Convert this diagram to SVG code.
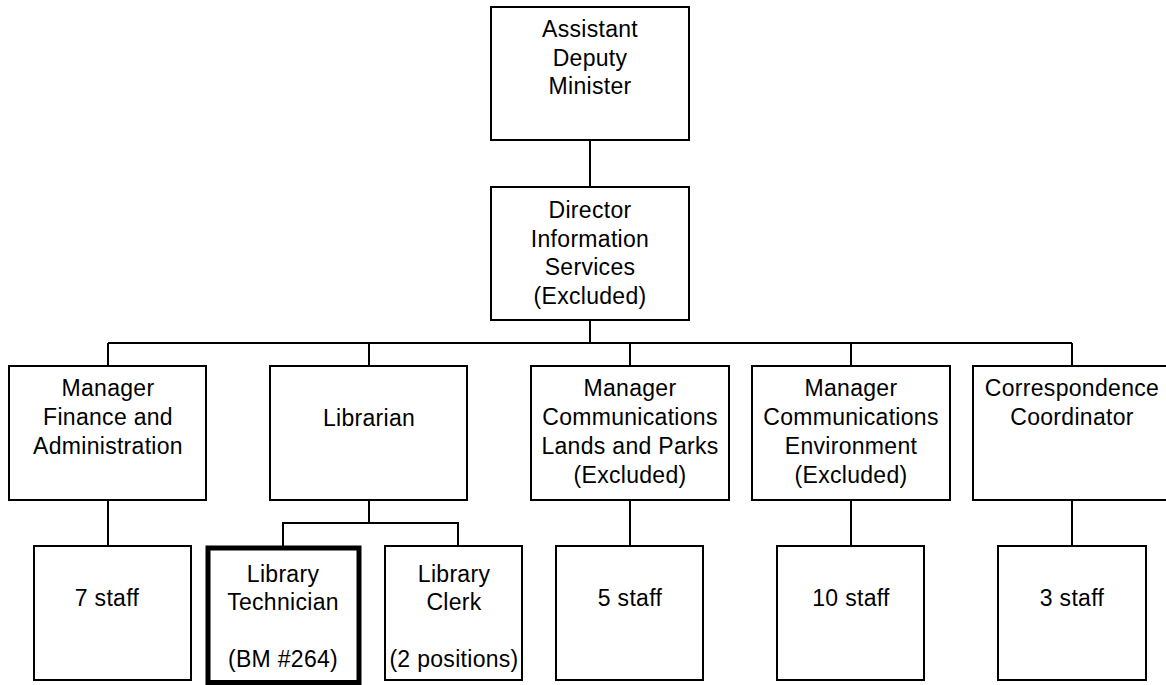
<svg xmlns="http://www.w3.org/2000/svg" width="1166" height="685" viewBox="0 0 1166 685">
<style>
.box{fill:#fff;stroke:#000;stroke-width:2}
.thick{fill:#fff;stroke:#000;stroke-width:5}
.conn{fill:none;stroke:#000;stroke-width:2}
text{font-family:"Liberation Sans",Arial,sans-serif;font-size:23px;letter-spacing:0.3px;fill:#000;text-anchor:middle}
</style>
<rect width="1166" height="685" fill="#fff"/>
<g id="connectors">
<line class="conn" x1="590" y1="140" x2="590" y2="187"/>
<line class="conn" x1="590" y1="320" x2="590" y2="343"/>
<line class="conn" x1="108" y1="343" x2="1072" y2="343"/>
<line class="conn" x1="108" y1="343" x2="108" y2="366"/>
<line class="conn" x1="369" y1="343" x2="369" y2="366"/>
<line class="conn" x1="630" y1="343" x2="630" y2="366"/>
<line class="conn" x1="851" y1="343" x2="851" y2="366"/>
<line class="conn" x1="1072" y1="343" x2="1072" y2="366"/>
<line class="conn" x1="108" y1="500" x2="108" y2="546"/>
<line class="conn" x1="369" y1="500" x2="369" y2="523"/>
<polyline class="conn" points="283,546 283,523 458,523 458,546"/>
<line class="conn" x1="630" y1="500" x2="630" y2="546"/>
<line class="conn" x1="851" y1="500" x2="851" y2="546"/>
<line class="conn" x1="1072" y1="500" x2="1072" y2="546"/>
</g>
<g id="adm">
<rect class="box" x="491" y="7" width="198" height="133"/>
<text x="590" y="37">Assistant</text>
<text x="590" y="66">Deputy</text>
<text x="590" y="94">Minister</text>
</g>
<g id="director">
<rect class="box" x="491" y="187" width="198" height="133"/>
<text x="590" y="218">Director</text>
<text x="590" y="247">Information</text>
<text x="590" y="275">Services</text>
<text x="590" y="304">(Excluded)</text>
</g>
<g id="mgr-finance">
<rect class="box" x="9" y="366" width="197" height="134"/>
<text x="108" y="396">Manager</text>
<text x="108" y="425">Finance and</text>
<text x="108" y="454">Administration</text>
</g>
<g id="librarian">
<rect class="box" x="270" y="366" width="197" height="134"/>
<text x="369" y="426">Librarian</text>
</g>
<g id="mgr-lands">
<rect class="box" x="531" y="366" width="198" height="134"/>
<text x="630" y="396">Manager</text>
<text x="630" y="425">Communications</text>
<text x="630" y="454">Lands and Parks</text>
<text x="630" y="483">(Excluded)</text>
</g>
<g id="mgr-env">
<rect class="box" x="752" y="366" width="198" height="134"/>
<text x="851" y="396">Manager</text>
<text x="851" y="425">Communications</text>
<text x="851" y="454">Environment</text>
<text x="851" y="483">(Excluded)</text>
</g>
<g id="correspondence">
<rect class="box" x="973" y="366" width="198" height="134"/>
<text x="1072" y="396">Correspondence</text>
<text x="1072" y="425">Coordinator</text>
</g>
<g id="staff7">
<rect class="box" x="34" y="546" width="157" height="134"/>
<text x="107" y="606">7 staff</text>
</g>
<g id="lib-tech">
<rect class="thick" x="208" y="548" width="151" height="134.5"/>
<text x="283" y="582">Library</text>
<text x="283" y="610">Technician</text>
<text x="283" y="667">(BM #264)</text>
</g>
<g id="lib-clerk">
<rect class="box" x="385" y="546" width="137" height="134"/>
<text x="454" y="582">Library</text>
<text x="454" y="610">Clerk</text>
<text x="454" y="667">(2 positions)</text>
</g>
<g id="staff5">
<rect class="box" x="556" y="546" width="147" height="134"/>
<text x="630" y="606">5 staff</text>
</g>
<g id="staff10">
<rect class="box" x="777" y="546" width="147" height="134"/>
<text x="851" y="606">10 staff</text>
</g>
<g id="staff3">
<rect class="box" x="998" y="546" width="148" height="134"/>
<text x="1072" y="606">3 staff</text>
</g>
</svg>
